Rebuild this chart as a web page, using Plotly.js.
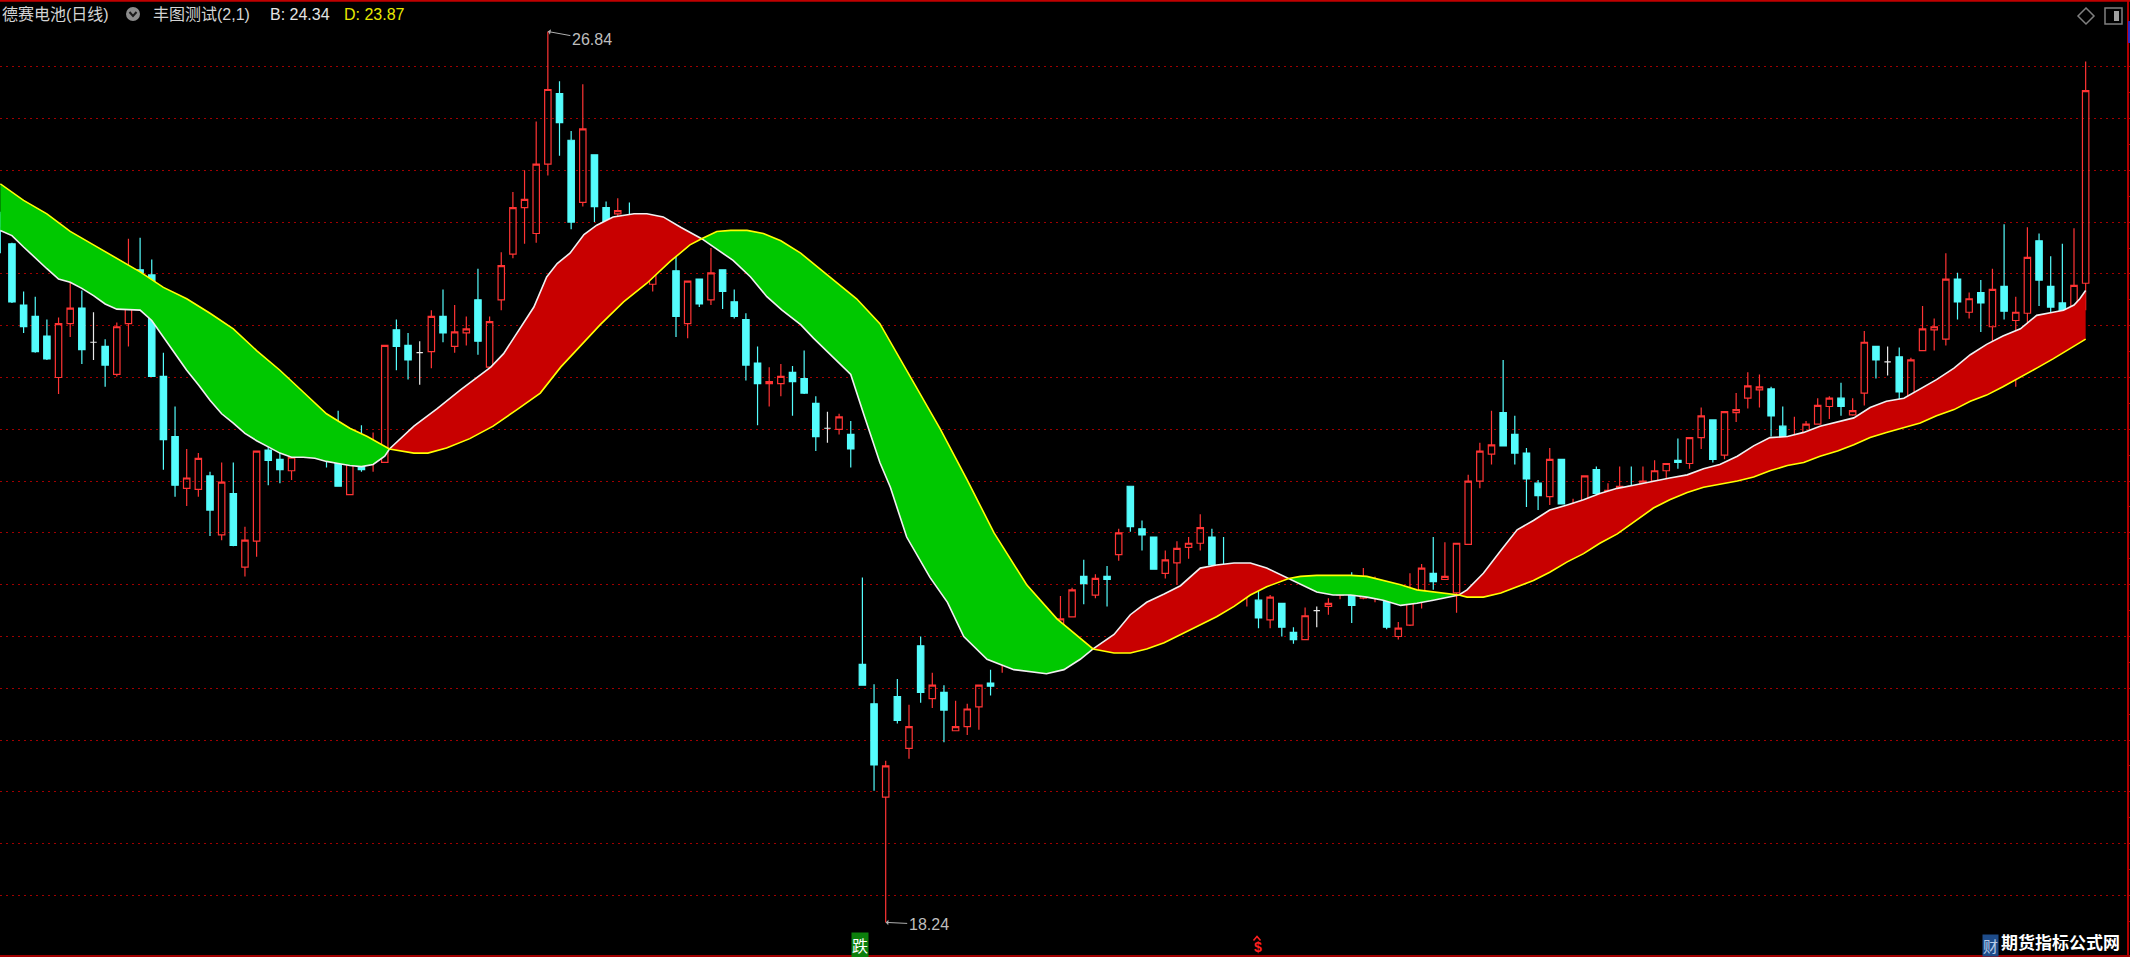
<!DOCTYPE html>
<html><head><meta charset="utf-8">
<script src="https://cdn.plot.ly/plotly-3.0.1.min.js"></script>
<style>html,body{margin:0;padding:0;background:#000;overflow:hidden}#chart{width:2130px;height:957px}</style>
</head><body><div id="chart"></div>
<script>
// ---------------- DATA ----------------
const stockName = '德赛电池(日线)';
const indicatorName = '丰图测试(2,1)';
const candleOpen = [
25.07,24.79,24.20,24.09,23.90,23.50,24.02,24.17,23.84,23.80,
23.53,24.02,24.54,24.49,23.51,22.93,22.43,22.42,22.55,21.98,
22.38,21.67,21.92,22.80,22.71,22.60,22.85,23.06,22.82,22.98,
22.37,22.85,22.68,22.68,23.96,23.81,23.74,23.75,24.09,23.80,
23.93,24.25,23.60,24.25,24.69,25.14,24.89,25.56,26.24,25.79,
25.19,25.65,25.14,25.08,25.06,24.75,24.40,24.64,24.53,24.02,
24.45,24.25,24.54,24.23,24.06,23.64,23.44,23.44,23.55,23.49,
23.25,23.01,23.00,22.95,20.73,20.35,19.45,20.42,19.92,20.91,
20.40,20.46,20.09,20.13,20.32,20.55,20.78,21.10,21.00,20.97,
20.71,20.98,21.19,21.58,21.40,21.58,21.79,22.45,22.04,21.96,
21.61,21.71,21.86,21.90,21.96,21.68,21.40,21.49,21.35,21.16,
21.32,21.04,20.97,21.25,21.29,21.40,21.54,21.37,21.43,21.48,
21.00,21.11,21.41,21.61,21.55,21.42,21.89,22.50,22.76,23.16,
22.95,22.77,22.48,22.35,22.71,22.18,22.25,22.61,22.33,22.41,
22.45,22.40,22.50,22.60,22.70,22.67,22.92,23.09,22.75,23.16,
23.30,23.38,23.39,23.03,22.77,22.84,23.05,23.22,23.30,23.14,
23.35,23.80,23.65,23.70,23.22,23.76,23.96,23.87,24.45,24.13,
24.32,23.99,24.38,24.05,24.12,24.82,24.38,24.22,24.09,24.41];
const candleHigh = [
25.10,24.80,24.33,24.28,24.06,24.08,24.62,24.34,24.13,23.87,
24.03,24.84,24.85,24.64,23.74,23.22,22.81,22.77,22.59,22.68,
22.68,22.06,22.79,22.93,23.09,22.83,23.17,23.16,22.96,23.18,
22.91,23.04,22.97,23.81,24.06,23.93,23.85,24.15,24.35,24.20,
24.09,24.55,24.09,24.71,25.29,25.50,25.97,26.84,26.36,25.88,
26.33,25.65,25.20,25.23,25.19,24.97,24.75,24.85,24.78,24.43,
24.45,24.75,24.54,24.35,24.12,23.80,23.60,23.63,23.61,23.76,
23.32,23.17,23.15,23.08,21.57,20.54,19.80,20.59,20.34,21.00,
20.65,20.53,20.38,20.35,20.53,20.68,21.17,21.17,21.12,21.10,
21.04,21.39,21.47,21.74,21.60,21.68,22.04,22.45,22.12,21.96,
21.83,21.92,21.96,22.18,22.04,21.96,21.59,21.66,21.48,21.40,
21.32,21.09,21.28,21.29,21.37,21.56,21.62,21.66,21.58,21.51,
21.14,21.61,21.70,21.96,21.91,21.90,22.56,22.87,23.18,23.67,
23.13,22.82,22.51,22.82,22.71,22.33,22.55,22.64,22.48,22.64,
22.64,22.64,22.70,22.67,22.91,22.92,23.21,23.09,23.17,23.35,
23.55,23.53,23.41,23.22,23.12,23.08,23.30,23.32,23.45,23.30,
23.95,23.80,23.80,23.79,23.69,24.19,24.07,24.70,24.51,24.32,
24.44,24.55,24.98,24.28,24.95,24.89,24.67,24.79,24.94,26.55];
const candleLow = [
24.70,24.22,23.93,23.74,23.67,23.34,23.89,23.63,23.67,23.41,
23.51,23.80,24.30,23.51,22.61,22.35,22.26,22.35,21.97,21.93,
21.87,21.58,21.77,22.46,22.48,22.51,22.83,22.73,22.63,22.45,
22.37,22.59,22.59,22.68,23.57,23.48,23.43,23.59,23.84,23.74,
23.81,23.72,23.44,24.15,24.65,24.79,24.80,25.45,25.64,24.93,
25.15,25.00,24.70,24.92,24.71,24.54,24.33,24.57,23.89,23.88,
24.18,24.20,24.16,24.07,23.47,23.04,23.22,23.32,23.13,23.34,
22.79,22.87,22.95,22.63,20.53,19.51,18.24,20.16,19.82,20.36,
20.31,19.98,20.09,20.05,20.10,20.43,20.65,20.84,20.91,20.66,
20.68,20.98,21.19,21.31,21.37,21.29,21.73,22.01,21.83,21.65,
21.56,21.50,21.75,21.83,21.68,21.54,21.38,21.29,21.08,21.08,
21.00,20.93,20.97,21.09,21.21,21.36,21.13,21.36,21.33,21.07,
20.97,21.10,21.27,21.45,21.55,21.23,21.89,22.43,22.66,22.84,
22.66,22.25,22.22,22.27,22.28,22.13,22.19,22.36,22.25,22.26,
22.39,22.21,22.47,22.42,22.62,22.62,22.81,22.68,22.71,23.07,
23.20,23.21,22.93,22.74,22.71,22.74,23.05,23.10,23.13,23.13,
23.23,23.49,23.52,23.22,23.22,23.76,23.76,23.81,24.06,24.07,
23.94,23.71,24.06,23.41,23.85,24.19,23.92,23.86,23.95,24.15];
const candleClose = [
24.96,24.23,23.99,23.75,23.68,24.02,24.17,23.77,23.84,23.62,
23.99,24.54,24.51,23.51,22.90,22.46,22.53,22.72,22.22,22.49,
21.88,21.93,22.79,22.70,22.61,22.73,22.97,22.99,22.76,22.45,
22.85,22.61,22.88,23.81,23.80,23.67,23.74,24.09,23.93,23.94,
23.97,23.85,24.04,24.58,25.14,25.22,25.56,26.28,25.96,25.00,
25.90,25.15,24.97,25.11,24.80,24.78,24.63,24.68,24.09,24.43,
24.21,24.51,24.33,24.09,23.62,23.44,23.46,23.51,23.46,23.35,
22.93,23.01,23.12,22.81,20.53,19.76,19.75,20.19,20.13,20.46,
20.53,20.29,20.13,20.30,20.53,20.52,21.08,21.01,21.00,20.80,
21.02,21.17,21.45,21.51,21.56,21.55,22.00,22.06,21.98,21.65,
21.74,21.85,21.90,22.05,21.69,21.57,21.50,21.54,21.18,21.38,
21.09,20.97,21.20,21.25,21.32,21.45,21.30,21.50,21.48,21.09,
21.08,21.46,21.66,21.53,21.58,21.90,22.50,22.79,22.85,22.84,
22.77,22.52,22.36,22.71,22.28,22.25,22.55,22.38,22.41,22.45,
22.42,22.50,22.60,22.67,22.68,22.92,23.13,22.71,23.17,23.19,
23.42,23.41,23.13,22.80,22.92,23.05,23.23,23.30,23.22,23.18,
23.84,23.67,23.65,23.36,23.67,23.97,23.99,24.45,24.23,24.26,
24.22,24.35,24.14,24.13,24.66,24.44,24.18,23.99,24.39,26.27];
// flat (open == close) days, drawn white
const dojiDays = [8, 36, 71, 88, 113, 162];

// indicator lines: [candle index] -> value
const lineB_x = [0,1,2,3,4,5,6,7,8,9,10,11,12,13,14,15,16,17,18,19,20,21,22,23,24,25,26,27,28,29,30,31,32,33,
35.5,37.5,39.5,41.2,42.1,43.2,44.35,45.8,46.9,47.8,48.9,50.1,51.2,52.6,54.4,55.5,56.9,58.4,
61.5,62.9,64.4,65.8,67.1,68.7,69.8,73.0,74.1,75.5,76.4,77.8,79.8,81.3,82.7,84.7,87.0,89.8,91.3,92.7,
95.6,97.0,98.4,99.9,101.3,103.0,104.4,105.9,107.3,108.7,
111.6,113.0,114.4,115.9,117.3,118.7,120.2,121.6,123.0,
125.9,127.3,128.8,130.2,131.6,133.0,134.5,135.9,137.3,138.8,140.2,141.9,143.3,144.8,146.2,147.6,149.1,150.5,151.9,153.4,154.8,156.2,157.7,159.1,160.5,161.9,163.4,164.8,166.2,167.7,169.1,170.5,171.9,173.4,174.8,176.2,177.1,178.0,178.5,179.0];
const lineB_y = [24.92,24.87,24.76,24.65,24.55,24.45,24.42,24.36,24.29,24.21,24.16,24.155,24.15,24.05,23.89,23.73,23.57,23.43,23.28,23.15,23.06,22.96,22.89,22.83,22.77,22.73,22.73,22.72,22.69,22.67,22.65,22.64,22.66,22.74,
23.03,23.20,23.38,23.52,23.60,23.73,23.93,24.18,24.47,24.60,24.70,24.88,24.97,25.05,25.08,25.08,25.05,24.95,
24.74,24.63,24.47,24.28,24.15,24.01,23.88,23.53,23.15,22.68,22.44,21.96,21.57,21.33,21.00,20.78,20.68,20.64,20.68,20.78,
21.02,21.21,21.33,21.41,21.49,21.66,21.69,21.71,21.71,21.66,
21.51,21.43,21.40,21.40,21.38,21.35,21.30,21.32,21.35,
21.45,21.61,21.83,22.03,22.12,22.22,22.27,22.32,22.38,22.43,22.46,22.50,22.53,22.56,22.62,22.66,22.74,22.84,22.92,22.93,22.97,23.03,23.07,23.11,23.21,23.27,23.30,23.39,23.48,23.59,23.72,23.82,23.90,23.97,24.10,24.13,24.15,24.20,24.26,24.34];
const lineD_x = [0,2,4,6,8,10,12,14,16,18,20,22,24,26,28,30,31.5,
35.5,36.7,38.3,40.3,42.3,44.35,46.35,48.1,49.8,51.5,53.5,55.5,57.5,59.2,
61.5,62.7,64.1,65.5,67.0,68.7,73.5,75.5,78.1,80.7,83.0,85.3,88.1,90.7,
95.6,97.0,98.4,99.9,101.3,102.7,104.4,105.9,107.3,108.7,
111.6,113.0,114.4,115.9,117.3,118.7,120.2,121.6,123.0,
125.9,127.3,128.8,130.2,131.6,133.0,134.5,135.9,137.3,138.8,140.2,141.9,143.3,144.8,146.2,147.6,149.1,150.5,151.9,153.4,154.8,156.2,157.7,159.1,160.5,161.9,163.4,164.8,166.2,167.7,169.1,170.5,171.9,173.4,174.8,176.2,177.1,178.5,179.0];
const lineD_y = [25.37,25.21,25.08,24.91,24.78,24.65,24.52,24.37,24.26,24.12,23.97,23.76,23.57,23.36,23.15,23.01,22.93,
22.77,22.77,22.82,22.91,23.03,23.19,23.35,23.60,23.81,24.01,24.23,24.41,24.62,24.78,
24.91,24.92,24.92,24.89,24.82,24.70,24.26,24.02,23.51,23.00,22.51,22.00,21.50,21.17,
20.84,20.84,20.88,20.94,21.02,21.10,21.19,21.29,21.40,21.48,
21.58,21.59,21.59,21.59,21.58,21.54,21.50,21.45,21.43,
21.38,21.38,21.42,21.48,21.54,21.62,21.72,21.80,21.90,21.99,22.10,22.24,22.32,22.39,22.44,22.47,22.50,22.54,22.60,22.65,22.68,22.74,22.79,22.85,22.92,22.97,23.02,23.06,23.13,23.19,23.27,23.33,23.41,23.50,23.59,23.68,23.74,23.84,23.87];
// points where the two lines cross
const cross_x = [33.4, 60.2, 93.8, 110.6, 125.2];
const cross_y = [22.81, 24.84, 20.88, 21.56, 21.40];
// horizontal grid levels and right-edge tick levels
const gridLevels = [18.5,19,19.5,20,20.5,21,21.5,22,22.5,23,23.5,24,24.5,25,25.5,26,26.5];
const tickLevels = [18.25,18.75,19.25,19.75,20.25,20.75,21.25,21.75,22.25,22.75,23.25,23.75,24.25,24.75,25.25,25.75,26.25,26.75];

// ---------------- BUILD ----------------
const WPX = 2130, HPX = 957, RM = 3;
const xStep = 11.65, xOff = 0.3;
const xr0 = -xOff / xStep, xr1 = xr0 + (WPX - RM) / xStep;
const yTop = 27.144, yBot = 17.906;
const PX = x => x / (WPX - RM);
const PY = y => 1 - y / HPX;

const UP = '#FF3434', DOWN = '#54FCFC', FLAT = '#E8E8E8';
const groups = {up: {x:[],open:[],high:[],low:[],close:[]}, dn: {x:[],open:[],high:[],low:[],close:[]}, flat: {x:[],open:[],high:[],low:[],close:[]}};
candleOpen.forEach((o, i) => {
  const c = candleClose[i];
  const g = dojiDays.includes(i) ? groups.flat : (c >= o ? groups.up : groups.dn);
  g.x.push(i); g.open.push(o); g.high.push(candleHigh[i]); g.low.push(candleLow[i]); g.close.push(c);
});
function candleTrace(g, lineCol, fill) {
  return Object.assign({type:'candlestick', whiskerwidth:0, hoverinfo:'skip',
    increasing:{line:{color:lineCol, width:1.2}, fillcolor:fill},
    decreasing:{line:{color:lineCol, width:1.2}, fillcolor:fill}}, g);
}

function merged(xs, ys) {
  const p = xs.map((x, i) => [x, ys[i]]).concat(cross_x.map((x, i) => [x, cross_y[i]]));
  p.sort((a, b) => a[0] - b[0]);
  return p;
}
const Bp = merged(lineB_x, lineB_y), Dp = merged(lineD_x, lineD_y);
const bounds = [-1e9].concat(cross_x, [1e9]);
const fills = [];
for (let k = 0; k < bounds.length - 1; k++) {
  const a = bounds[k], b = bounds[k + 1];
  const wb = Bp.filter(p => p[0] >= a && p[0] <= b);
  const wd = Dp.filter(p => p[0] >= a && p[0] <= b);
  const mb = wb.reduce((s, p) => s + p[1], 0) / wb.length;
  const md = wd.reduce((s, p) => s + p[1], 0) / wd.length;
  const poly = wb.concat(wd.slice().reverse());
  fills.push({type:'scatter', mode:'lines', x: poly.map(p => p[0]), y: poly.map(p => p[1]),
    fill:'toself', fillcolor: mb > md ? '#C80000' : '#00C800', line:{width:0}, hoverinfo:'skip'});
}
const lines = [
  {type:'scatter', mode:'lines', x: Bp.map(p => p[0]), y: Bp.map(p => p[1]), line:{color:'#F0F0F0', width:1.6}, hoverinfo:'skip'},
  {type:'scatter', mode:'lines', x: Dp.map(p => p[0]), y: Dp.map(p => p[1]), line:{color:'#FFFF00', width:1.6}, hoverinfo:'skip'}
];

const data = fills.concat(lines, [
  candleTrace(groups.up, UP, 'rgba(0,0,0,0)'),
  candleTrace(groups.dn, DOWN, DOWN),
  candleTrace(groups.flat, FLAT, FLAT)
]);

const maxHigh = Math.max(...candleHigh), minLow = Math.min(...candleLow);
const iMax = candleHigh.indexOf(maxHigh), iMin = candleLow.indexOf(minLow);
const lastB = lineB_y[lineB_y.length - 1], lastD = lineD_y[lineD_y.length - 1];

const F = "'Liberation Sans', 'Noto Sans CJK SC', sans-serif";
const CJK = "'Noto Sans CJK SC', sans-serif";
function txt(text, x, y, color, size, extra) {
  return Object.assign({xref:'paper', yref:'paper', x: PX(x), y: PY(y), xanchor:'left', yanchor:'middle',
    text, showarrow:false, font:{family:F, size, color}}, extra || {});
}
const annotations = [
  txt(stockName, 0, 14, '#D4D4D4', 16),
  txt(indicatorName, 151, 14, '#D4D4D4', 16),
  txt('B: ' + lastB.toFixed(2), 268, 14, '#E4E4E4', 16),
  txt('D: ' + lastD.toFixed(2), 342, 14, '#E8E800', 16),
  {x: iMax, y: maxHigh, xref:'x', yref:'y', text: maxHigh.toFixed(2), showarrow:true, arrowhead:1, arrowsize:0.9,
   arrowwidth:1, arrowcolor:'#B0B0B0', ax: 44, ay: 8, font:{family:F, size:16, color:'#BEBEBE'}},
  {x: iMin, y: minLow, xref:'x', yref:'y', text: minLow.toFixed(2), showarrow:true, arrowhead:1, arrowsize:0.9,
   arrowwidth:1, arrowcolor:'#B0B0B0', ax: 43, ay: 2, font:{family:F, size:16, color:'#BEBEBE'}},
  txt('跌', 851, 945, '#FFFFFF', 16, {font:{family:CJK, size:16, color:'#FFFFFF'}, bgcolor:'#0C800C', borderpad:0}),
  txt('$', 1252, 947, '#FF2020', 14, {font:{family:F, size:14, color:'#FF2020', weight:'bold'}}),
  txt('财', 1982, 945, '#B8CCE8', 15, {font:{family:CJK, size:15, color:'#B8CCE8'}, bgcolor:'#1E4C8A', borderpad:0}),
  txt('期货指标公式网', 1999, 941, '#FFFFFF', 17, {font:{family:CJK, size:17, color:'#FFFFFF', weight:'bold'}})
];

const shapes = [
  {type:'line', xref:'paper', yref:'paper', x0:0, x1:PX(WPX), y0:PY(0.8), y1:PY(0.8), line:{color:'#C00000', width:2}},
  {type:'line', xref:'paper', yref:'paper', x0:0, x1:PX(WPX), y0:PY(956), y1:PY(956), line:{color:'#A00000', width:2}},
  {type:'rect', xref:'paper', yref:'paper', x0:PX(2128), x1:PX(2130), y0:PY(21), y1:PY(43), fillcolor:'#2A2AC0', line:{width:0}},
  {type:'circle', xref:'paper', yref:'paper', x0:PX(126), x1:PX(140), y0:PY(7), y1:PY(21), fillcolor:'#8C8C8C', line:{width:0}},
  {type:'path', xref:'paper', yref:'paper', path:`M${PX(129.5)},${PY(12)} L${PX(133)},${PY(16)} L${PX(136.5)},${PY(12)}`, line:{color:'#1A1A1A', width:2}},
  // caret above the red "$" mark
  {type:'path', xref:'paper', yref:'paper', path:`M${PX(1253.5)},${PY(940.5)} L${PX(1257)},${PY(936.5)} L${PX(1260.5)},${PY(940.5)}`, line:{color:'#FF2020', width:1.5}},
  {type:'path', xref:'paper', yref:'paper', path:`M${PX(2086)},${PY(8)} L${PX(2094)},${PY(16)} L${PX(2086)},${PY(24)} L${PX(2078)},${PY(16)} Z`, line:{color:'#808080', width:1.5}},
  {type:'rect', xref:'paper', yref:'paper', x0:PX(2105), x1:PX(2122), y0:PY(8), y1:PY(24), line:{color:'#808080', width:1.5}},
  {type:'rect', xref:'paper', yref:'paper', x0:PX(2114), x1:PX(2119), y0:PY(11), y1:PY(21), fillcolor:'#A0A0A0', line:{width:0}}
];

const layout = {
  width: WPX, height: HPX,
  margin: {l:0, r:RM, t:0, b:0, pad:0},
  paper_bgcolor:'#000000', plot_bgcolor:'#000000',
  showlegend:false, hovermode:false, dragmode:false,
  boxgap:0.45, boxgroupgap:0,
  xaxis: {range:[xr0, xr1], showgrid:false, zeroline:false, showticklabels:false, ticks:'', showline:false,
          rangeslider:{visible:false}, fixedrange:true},
  yaxis: {range:[yBot, yTop], side:'right', tickmode:'array', tickvals:gridLevels, showticklabels:false,
          ticks:'outside', ticklen:3, tickcolor:'#B00000', tickwidth:1,
          showgrid:true, gridcolor:'#A00000', griddash:'2px,4px', gridwidth:1,
          minor:{tickmode:'array', tickvals:tickLevels, ticks:'outside', ticklen:3, tickcolor:'#B00000', showgrid:false},
          zeroline:false, showline:true, linecolor:'#B40000', linewidth:2, fixedrange:true},
  annotations, shapes
};
Plotly.newPlot('chart', data, layout, {staticPlot:true, displayModeBar:false});
</script>
</body></html>
